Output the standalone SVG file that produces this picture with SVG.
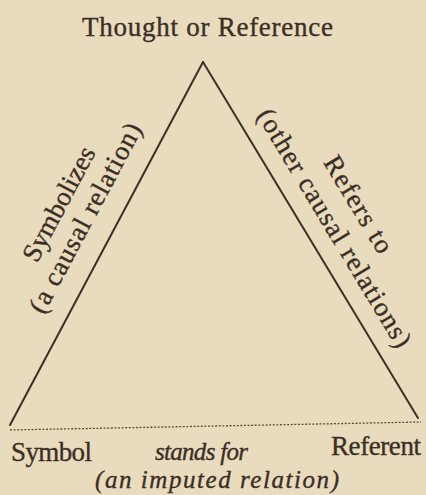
<svg xmlns="http://www.w3.org/2000/svg" width="426" height="495" viewBox="0 0 426 495">
<style>
text{font-family:"Liberation Serif","Times New Roman",serif;font-size:27px;fill:#3a2e25;stroke:#3a2e25;stroke-width:0.35}
.it{font-style:italic;font-size:25px}
.edge{stroke:#3c3027;stroke-width:2;fill:none;stroke-linecap:round}
.dot{stroke:#5a4b3c;stroke-width:1.3;stroke-dasharray:2 1.6;fill:none}
</style>
<rect width="426" height="495" fill="#e9dbbd"/>
<g id="connectors">
<line class="edge" x1="10" y1="425" x2="203" y2="62"/>
<line class="edge" x1="203" y1="62" x2="418" y2="418"/>
<line class="dot" x1="10" y1="430" x2="421" y2="422"/>
<g id="label-symbolizes">
<text x="66.5" y="208" text-anchor="middle" textLength="126" lengthAdjust="spacing" transform="rotate(-62 66.5 208)">Symbolizes</text>
<text x="93" y="222" text-anchor="middle" textLength="211" lengthAdjust="spacing" transform="rotate(-62 93 222)">(a causal relation)</text>
</g>
<g id="label-refers">
<text x="351" y="209" text-anchor="middle" textLength="109" lengthAdjust="spacing" transform="rotate(58.9 351 209)">Refers to</text>
<text x="327" y="232.5" text-anchor="middle" textLength="274" lengthAdjust="spacing" transform="rotate(58.9 327 232.5)">(other causal relations)</text>
</g>
<g id="label-stands">
<text class="it" x="155" y="460" textLength="93" lengthAdjust="spacing">stands for</text>
<text class="it" x="95" y="488" textLength="244" lengthAdjust="spacing">(an imputed relation)</text>
</g>
</g>
<g id="node-thought"><text x="82" y="36" textLength="251" lengthAdjust="spacing">Thought or Reference</text></g>
<g id="node-symbol"><text x="11" y="461" textLength="81" lengthAdjust="spacing">Symbol</text></g>
<g id="node-referent"><text x="331" y="455" textLength="90" lengthAdjust="spacing">Referent</text></g>
</svg>
